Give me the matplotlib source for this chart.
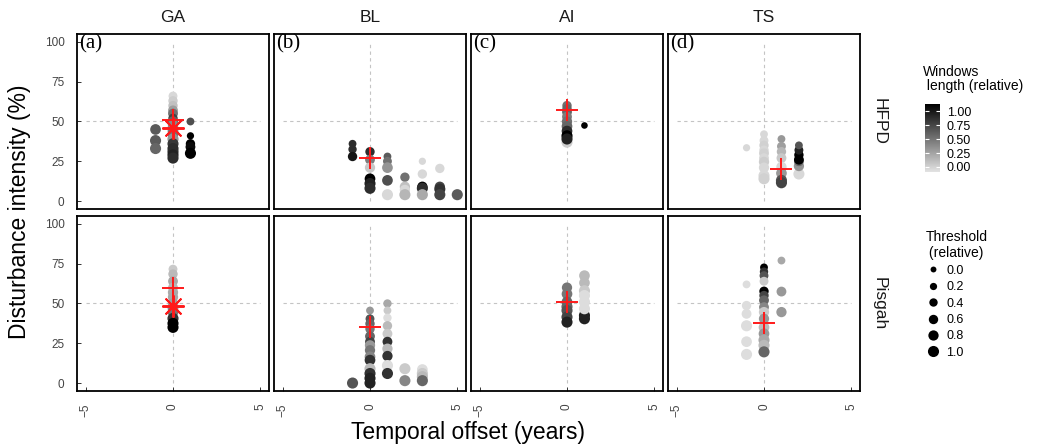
import matplotlib.pyplot as plt
import numpy as np
from matplotlib.colors import LinearSegmentedColormap
from matplotlib.lines import Line2D

plt.rcParams['font.family'] = ['Liberation Sans', 'DejaVu Sans']

# Facets
methods = ['GA', 'BL', 'AI', 'TS']
sites = ['HFPD', 'Pisgah']
panel_tags = ['(a)', '(b)', '(c)', '(d)']

# Points per facet: (offset in years, intensity %, window length, threshold)
hfpd_ga = [(-1, 45, 0.60, 0.9), (-1, 38, 0.60, 1.0), (-1, 33, 0.55, 1.0),
           (0, 66, 0.05, 0.5), (0, 63, 0.10, 0.6), (0, 60, 0.15, 0.6),
           (0, 57, 0.30, 0.7), (0, 55, 0.50, 0.7), (0, 52, 0.70, 0.6),
           (0, 50, 0.55, 0.8), (0, 48, 0.40, 0.8), (0, 46, 0.40, 0.9),
           (0, 44, 0.45, 0.9), (0, 42, 0.50, 0.9), (0, 39, 0.35, 1.0),
           (0, 36, 0.75, 1.0), (0, 33, 0.80, 1.0), (0, 31, 0.80, 1.0),
           (0, 29, 0.85, 1.0), (0, 27, 0.80, 1.0),
           (1, 50, 0.65, 0.3), (1, 41, 1.00, 0.2), (1, 36, 1.00, 0.6),
           (1, 34, 0.95, 0.7), (1, 30, 1.00, 1.0)]
hfpd_bl = [(-1, 36, 0.80, 0.3), (-1, 32.5, 0.80, 0.4), (-1, 28, 0.90, 0.6),
           (0, 31, 0.80, 0.6), (0, 26, 0.45, 0.7), (0, 21, 0.12, 0.8),
           (0, 14, 1.00, 0.9), (0, 11, 0.85, 1.0), (0, 8, 0.80, 1.0),
           (1, 28, 0.60, 0.3), (1, 25, 0.50, 0.5), (1, 21, 0.35, 0.9),
           (1, 13, 0.65, 0.9), (1, 4, 0.05, 1.0),
           (2, 15, 0.50, 0.6), (2, 9, 0.15, 0.8), (2, 7, 0.05, 0.8),
           (2, 4, 0.20, 1.0),
           (3, 25, 0.05, 0.2), (3, 17, 0.05, 0.6), (3, 9, 1.00, 0.8),
           (3, 8, 0.80, 1.0), (3, 4, 0.25, 1.0),
           (4, 20.5, 0.05, 0.6), (4, 9, 0.70, 0.8), (4, 7.5, 0.78, 1.0),
           (4, 4, 0.70, 1.0),
           (5, 4, 0.60, 1.0)]
hfpd_ai = [(0, 37, 0.10, 1.0), (0, 60, 0.50, 0.6), (0, 58, 0.55, 0.6),
           (0, 56, 0.55, 0.7), (0, 53, 0.45, 0.7), (0, 50, 0.50, 0.8),
           (0, 47, 0.55, 0.9), (0, 44, 0.80, 0.9), (0, 41, 1.00, 1.0),
           (0, 39, 0.85, 1.0),
           (1, 47.5, 1.00, 0.1)]
hfpd_ts = [(-1, 33.5, 0.05, 0.2),
           (0, 42, 0.05, 0.3), (0, 38, 0.05, 0.5), (0, 35, 0.08, 0.6),
           (0, 32, 0.05, 0.6), (0, 30, 0.08, 0.7), (0, 27, 0.05, 0.7),
           (0, 24.6, 0.10, 0.8), (0, 21, 0.05, 0.8), (0, 16, 0.05, 1.0),
           (0, 14, 0.08, 1.0),
           (1, 39, 0.33, 0.3), (1, 34.4, 0.30, 0.5), (1, 31, 0.20, 0.6),
           (1, 27, 0.12, 0.7), (1, 21.5, 0.05, 0.8), (1, 17.5, 0.33, 0.9),
           (1, 13, 0.63, 1.0), (1, 11.5, 0.70, 1.0),
           (2, 17, 0.05, 1.0), (2, 22, 0.35, 0.8), (2, 25, 0.55, 0.7),
           (2, 26, 1.00, 0.7), (2, 29, 1.00, 0.6), (2, 32, 0.85, 0.5),
           (2, 35, 0.63, 0.3)]
pisgah_ga = [(0, 71.6, 0.11, 0.5), (0, 68.5, 0.18, 0.6), (0, 64, 0.26, 0.7),
             (0, 60, 0.20, 0.7), (0, 57, 0.25, 0.8), (0, 54, 0.26, 0.8),
             (0, 50, 0.30, 0.8), (0, 47, 0.40, 0.9), (0, 44.6, 0.48, 0.9),
             (0, 40.6, 0.78, 1.0), (0, 37.5, 1.00, 1.0), (0, 35, 1.00, 1.0)]
pisgah_bl = [(-1, 0, 0.63, 1.0),
             (0, 45.6, 0.33, 0.3), (0, 40.4, 0.63, 0.5), (0, 37.3, 0.55, 0.6),
             (0, 34, 0.48, 0.6), (0, 29.4, 0.55, 0.7), (0, 26, 0.70, 0.7),
             (0, 23.7, 0.33, 0.8), (0, 20.6, 0.48, 0.8), (0, 16.5, 0.41, 0.9),
             (0, 14.4, 0.78, 0.9), (0, 9, 0.18, 1.0), (0, 6, 0.78, 1.0),
             (0, 3, 0.85, 1.0), (0, 0, 0.85, 1.0),
             (1, 50, 0.26, 0.4), (1, 45.6, 0.11, 0.3), (1, 41, 0.03, 0.4),
             (1, 36, 0.18, 0.6), (1, 31, 0.11, 0.7), (1, 26, 0.78, 0.7),
             (1, 21.6, 0.18, 0.8), (1, 17, 0.78, 0.8), (1, 11, 0.03, 1.0),
             (1, 6, 0.78, 1.0),
             (2, 9, 0.11, 1.0), (2, 1.5, 0.41, 1.0),
             (3, 8.5, 0.03, 0.9), (3, 6, 0.11, 1.0), (3, 4, 0.18, 1.0),
             (3, 1.5, 0.55, 1.0)]
pisgah_ai = [(0, 60, 0.48, 0.8), (0, 56, 0.48, 0.9), (0, 51, 0.55, 0.9),
             (0, 48, 0.55, 1.0), (0, 45.6, 0.63, 1.0), (0, 41.5, 0.70, 1.0),
             (0, 38.3, 0.85, 1.0),
             (1, 42.5, 0.85, 1.0), (1, 40.4, 0.85, 1.0),
             (1, 67.5, 0.18, 0.9), (1, 63, 0.18, 0.9), (1, 58, 0.11, 1.0),
             (1, 55, 0.03, 1.0), (1, 51, 0.03, 1.0), (1, 46.7, 0.03, 1.0)]
pisgah_ts = [(-1, 62, 0.03, 0.3), (-1, 48.7, 0.03, 0.6), (-1, 43.5, 0.03, 0.7),
             (-1, 36, 0.03, 1.0), (-1, 26, 0.03, 0.9), (-1, 18, 0.03, 1.0),
             (0, 72.7, 1.00, 0.3), (0, 70, 0.78, 0.4), (0, 67.5, 0.63, 0.5),
             (0, 64, 0.11, 0.5), (0, 57.7, 1.00, 0.6), (0, 55, 0.70, 0.6),
             (0, 52, 0.55, 0.7), (0, 47.7, 0.41, 0.7), (0, 44.6, 0.11, 0.8),
             (0, 40.4, 0.33, 0.8), (0, 35, 0.18, 0.9), (0, 31, 0.33, 0.9),
             (0, 27, 0.26, 1.0), (0, 23.7, 0.18, 1.0), (0, 19.6, 0.55, 1.0),
             (1, 77, 0.26, 0.3), (1, 57.5, 0.33, 0.7), (1, 44.6, 0.33, 0.8)]

points = {'HFPD': [hfpd_ga, hfpd_bl, hfpd_ai, hfpd_ts],
          'Pisgah': [pisgah_ga, pisgah_bl, pisgah_ai, pisgah_ts]}

# Red summary markers (offset, intensity)
plus_hfpd = [(0, 51), (0, 27), (0, 57), (1, 20)]
plus_pisgah = [(0, 60), (0, 35), (0, 51), (0, 37.5)]
star_ga = {'HFPD': (0, 46), 'Pisgah': (0, 48.5)}
plus_marks = {'HFPD': plus_hfpd, 'Pisgah': plus_pisgah}

size_breaks = [0.0, 0.2, 0.4, 0.6, 0.8, 1.0]
colour_breaks = [0.0, 0.25, 0.5, 0.75, 1.0]

greys = LinearSegmentedColormap.from_list('greys_r', ['#e3e3e3', '#000000'])


def marker_size(t):
    return 18 + 46 * np.asarray(t)


W, H = 1046, 448
fig = plt.figure(figsize=(W / 100, H / 100), dpi=100)


def px_axes(x0, y0, w, h):
    return fig.add_axes([x0 / W, 1 - (y0 + h) / H, w / W, h / H])


col_left = [77, 274, 471, 668]
row_top = [34, 216]
pw, ph = 192, 175

for r, site in enumerate(sites):
    for c, method in enumerate(methods):
        ax = px_axes(col_left[c], row_top[r], pw, ph)
        ax.set_xlim(-5.5, 5.5)
        ax.set_ylim(-5, 105)
        ax.plot([0, 0], [0, 100], ls=(0, (3, 3)), color='#c4c4c4', lw=0.8,
                zorder=1)
        ax.plot([-5, 5], [50, 50], ls=(0, (3, 3)), color='#c4c4c4', lw=0.8,
                zorder=1)

        pts = np.array(points[site][c])
        ax.scatter(pts[:, 0], pts[:, 1], s=marker_size(pts[:, 3]),
                   c=pts[:, 2], cmap=greys, vmin=0, vmax=1,
                   linewidths=0, zorder=2)

        px, py = plus_marks[site][c]
        ax.plot(px, py, marker='+', color='#ff1a1a', ms=16, mew=1.4,
                ls='none', zorder=4)
        if method == 'GA':
            sx, sy = star_ga[site]
            ax.plot(sx, sy, marker=(8, 2, 0), color='#ff1a1a', ms=16,
                    mew=1.4, ls='none', zorder=4)

        for sp in ax.spines.values():
            sp.set_color('black')
            sp.set_linewidth(1.3)

        ax.set_xticks([-5, 0, 5])
        ax.set_yticks([0, 25, 50, 75, 100])
        ax.tick_params(direction='in', length=3, width=0.7, color='#333333',
                       labelsize=8.5, labelcolor='#444444')
        ax.tick_params(axis='x', pad=9, labelrotation=90)
        ax.tick_params(axis='y', pad=9)
        if c > 0:
            ax.tick_params(axis='y', left=False, labelleft=False)
        if r == 0:
            ax.tick_params(axis='x', bottom=False, labelbottom=False)

        if r == 0:
            ax.text(0.5, 1.05, method, transform=ax.transAxes, ha='center',
                    va='bottom', fontsize=12.5, color='#1a1a1a')
            ax.text(0.01, 1.0, panel_tags[c], transform=ax.transAxes,
                    ha='left', va='top', fontsize=15,
                    family='Liberation Serif')
        if c == len(methods) - 1:
            ax.text(1.1, 0.5, site, transform=ax.transAxes, rotation=-90,
                    ha='center', va='center', fontsize=12.5, color='#1a1a1a')

fig.text(20 / W, 1 - 212 / H, 'Disturbance intensity (%)', rotation=90,
         ha='center', va='center', fontsize=16.5)
fig.text(468 / W, 1 - 432 / H, 'Temporal offset (years)', ha='center',
         va='center', fontsize=16.5)

# Colour legend (window length)
fig.text(923 / W, 1 - 79 / H, 'Windows\n length (relative)', ha='left',
         va='center', fontsize=10, linespacing=1.05)
cax = px_axes(925, 104, 15, 68)
grad = np.linspace(0, 1, 256).reshape(-1, 1)
cax.imshow(grad, cmap=greys, origin='lower', aspect='auto',
           extent=[0, 1, -0.09, 1.13])
cax.set_xlim(0, 1)
cax.set_ylim(-0.09, 1.13)
cax.set_xticks([])
cax.set_yticks(colour_breaks)
cax.set_yticklabels(['%.2f' % v for v in colour_breaks])
cax.tick_params(axis='y', direction='in', length=3, width=0.8,
                color='white', left=True, right=True, labelleft=False,
                labelright=True, labelsize=9, pad=5)
for sp in cax.spines.values():
    sp.set_visible(False)

# Size legend (threshold)
handles = [Line2D([], [], marker='o', ls='none', color='black',
                  markeredgewidth=0,
                  markersize=np.sqrt(marker_size(v))) for v in size_breaks]
leg = fig.legend(handles, ['%.1f' % v for v in size_breaks],
                 loc='upper left', bbox_to_anchor=(914 / W, 1 - 219 / H),
                 frameon=False, title='Threshold\n (relative)',
                 title_fontsize=10, fontsize=9, labelspacing=0.35,
                 handletextpad=0.5, handlelength=1.2, alignment='left')

fig.savefig('out.png', dpi=100)
